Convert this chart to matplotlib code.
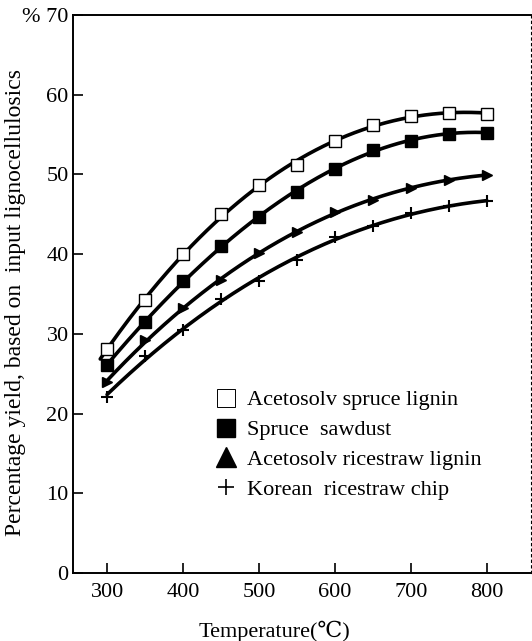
import numpy as np
import matplotlib
matplotlib.use("Agg")
import matplotlib.pyplot as plt
from matplotlib.lines import Line2D

temps = [300, 350, 400, 450, 500, 550, 600, 650, 700, 750, 800]
spruce_lignin = [28.1, 34.2, 40.0, 45.0, 48.6, 51.1, 54.2, 56.2, 57.3, 57.7, 57.6]
spruce_sawdust = [26.1, 31.5, 36.6, 41.0, 44.6, 47.8, 50.7, 53.1, 54.2, 55.1, 55.2]
ricestraw_lignin = [24.0, 29.2, 33.2, 36.7, 40.1, 42.8, 45.3, 46.8, 48.3, 49.3, 49.9]
ricestraw_chip = [22.1, 27.2, 30.5, 34.4, 36.6, 39.3, 42.1, 43.5, 45.2, 46.0, 46.6]
labels = ["Acetosolv spruce lignin", "Spruce  sawdust",
          "Acetosolv ricestraw lignin", "Korean  ricestraw chip"]
yticks = [0, 10, 20, 30, 40, 50, 60, 70]
ytick_labels = ["0", "10", "20", "30", "40", "50", "60", "% 70"]
xticks = [300, 400, 500, 600, 700, 800]

serif = ["Liberation Serif", "DejaVu Serif", "Noto Sans CJK SC"]
plt.rcParams["font.family"] = serif

fig = plt.figure(figsize=(5.32, 6.41), dpi=100)
ax = fig.add_axes([0.137, 0.106, 0.861, 0.871])

x = np.array(temps, dtype=float)
series = [spruce_lignin, spruce_sawdust, ricestraw_lignin, ricestraw_chip]
markers = [dict(marker="s", mfc="white", mec="black", ms=8.5, mew=1.0),
           dict(marker="s", mfc="black", mec="black", ms=8.5),
           dict(marker=">", mfc="black", mec="black", ms=7),
           dict(marker="+", mfc="black", mec="black", ms=9, mew=1.5)]
starts = [291, 297, 299, 300]
for ys, mk, x0 in zip(series, markers, starts):
    coef = np.polyfit(x, np.array(ys), 3)
    xf = np.linspace(x0, 800, 200)
    ax.plot(xf, np.polyval(coef, xf), color="black", lw=2.6, solid_capstyle="round", zorder=2)
    ax.plot(x, ys, ls="none", zorder=3, **mk)

ax.set_xlim(255, 858)
ax.set_ylim(0, 70)
ax.set_xticks(xticks)
ax.set_yticks(yticks)
ax.set_yticklabels(ytick_labels)
ax.tick_params(axis="both", direction="in", length=7, width=1.2, labelsize=16, colors="black")
ax.tick_params(axis="y", pad=3)
ax.tick_params(axis="x", pad=7)
for s in ["left", "bottom", "top"]:
    ax.spines[s].set_linewidth(1.4)
ax.spines["right"].set_linewidth(0.8)
ax.spines["right"].set_linestyle((0, (2, 3)))

ax.set_xlabel("Temperature(℃)", fontsize=16, labelpad=10)
ax.xaxis.set_label_coords(0.44, -0.085)
ax.set_ylabel("Percentage yield, based on  input lignocellulosics", fontsize=17, labelpad=4)
ax.yaxis.set_label_coords(-0.102, 0.485)

handles = [Line2D([], [], ls="none", marker="s", mfc="white", mec="black", ms=13, mew=0.7),
           Line2D([], [], ls="none", marker="s", mfc="black", mec="black", ms=13),
           Line2D([], [], ls="none", marker="^", mfc="black", mec="black", ms=14),
           Line2D([], [], ls="none", marker="+", mfc="black", mec="black", ms=11, mew=1.2)]
ax.legend(handles, labels, loc="upper left", bbox_to_anchor=(0.285, 0.344),
          frameon=False, fontsize=16, handletextpad=0.35, labelspacing=0.42,
          handlelength=1.2, borderaxespad=0)

fig.savefig("out.png", dpi=100)
